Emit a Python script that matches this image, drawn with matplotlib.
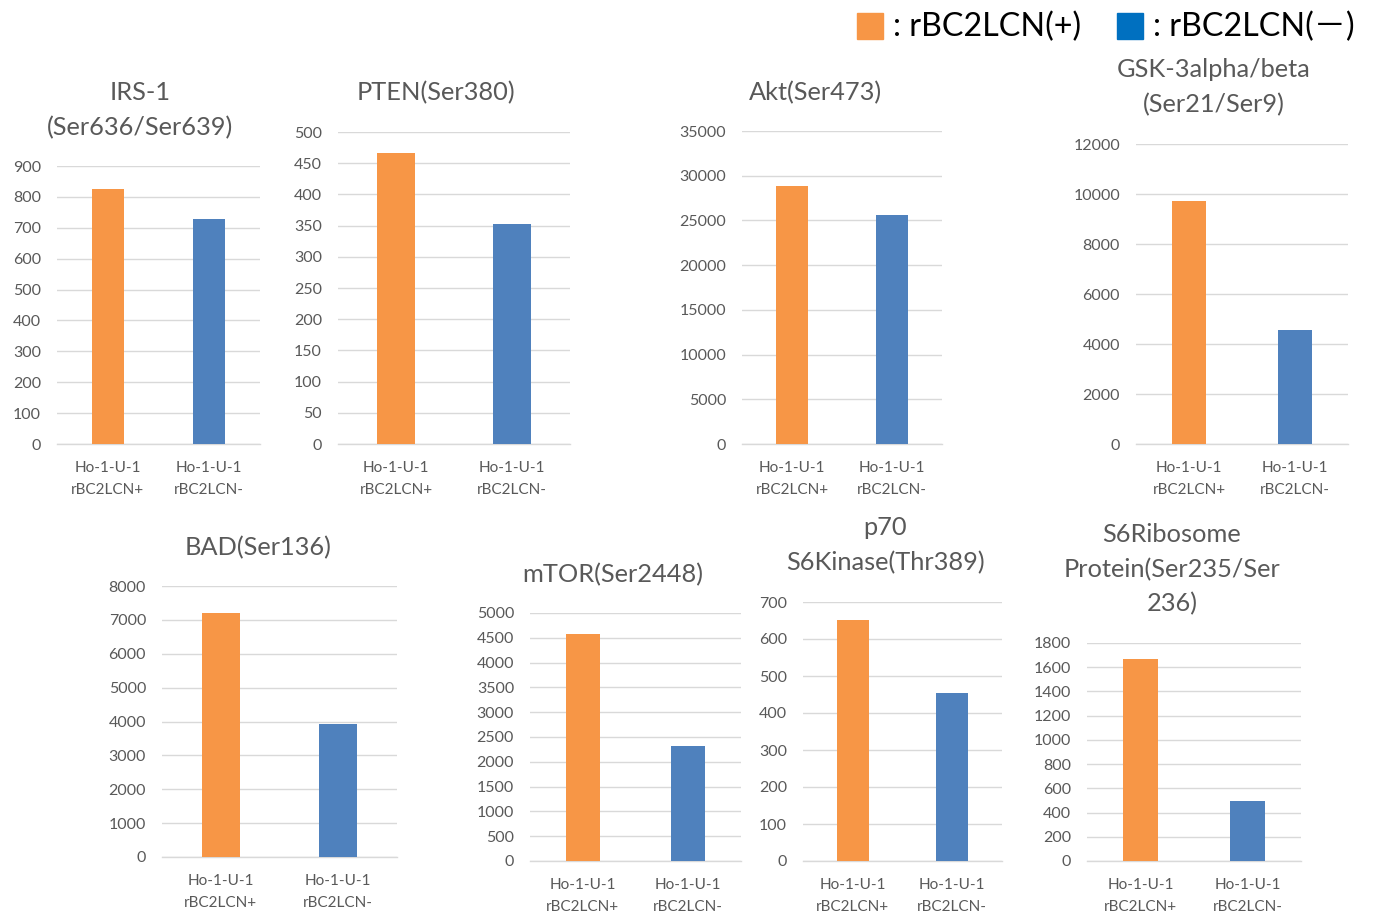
import matplotlib
matplotlib.use("Agg")
import matplotlib.pyplot as plt
from matplotlib.patches import Rectangle

W, H = 1375, 918

categories = ["Ho-1-U-1\nrBC2LCN+", "Ho-1-U-1\nrBC2LCN-"]

titles = [
    "IRS-1\n(Ser636/Ser639)",
    "PTEN(Ser380)",
    "Akt(Ser473)",
    "GSK-3alpha/beta\n(Ser21/Ser9)",
    "BAD(Ser136)",
    "mTOR(Ser2448)",
    "p70\nS6Kinase(Thr389)",
    "S6Ribosome\nProtein(Ser235/Ser\n236)",
]

positive = [827, 467, 28800, 9730, 7215, 4570, 651, 1670]
negative = [727, 352, 25580, 4555, 3915, 2312, 454, 495]

y_max = [900, 500, 35000, 12000, 8000, 5000, 700, 1800]
y_step = [100, 50, 5000, 2000, 1000, 500, 100, 200]

# plot boxes in pixels: left, right, top, bottom
boxes = [
    (57, 260, 166, 444),
    (338, 570, 132, 444),
    (742, 942, 131, 444),
    (1136, 1348, 144, 444),
    (162, 397, 586, 857),
    (530, 741, 613, 861),
    (803, 1002, 602, 861),
    (1087, 1301, 643, 861),
]
# title centre x and y of the first title line (pixels)
title_pos = [
    (140, 90), (436, 90), (815, 90), (1214, 67),
    (258, 545), (613, 572), (885, 525), (1172, 532),
]

ORANGE = "#F79646"
BLUE = "#4F81BD"
LEG_BLUE = "#0070C0"
GRID = "#D9D9D9"
TXT = "#595959"
FONT = ["Lato", "Noto Sans CJK JP", "DejaVu Sans"]

plt.rcParams["font.family"] = FONT

fig = plt.figure(figsize=(W / 100, H / 100), dpi=100)

for i in range(8):
    l, r, t, b = boxes[i]
    ax = fig.add_axes([l / W, 1 - b / H, (r - l) / W, (b - t) / H])
    ax.bar([0, 1], [positive[i], negative[i]], width=0.32,
           color=[ORANGE, BLUE], zorder=3)
    ax.set_xlim(-0.5, 1.5)
    ax.set_ylim(0, y_max[i])
    ticks = list(range(0, y_max[i] + 1, y_step[i]))
    ax.set_yticks(ticks)
    ax.set_yticklabels([str(v) for v in ticks])
    ax.set_xticks([0, 1])
    ax.set_xticklabels(categories, linespacing=1.75)
    ax.grid(axis="y", color=GRID, linewidth=1, zorder=0)
    ax.set_axisbelow(True)
    for s in ["top", "right", "left"]:
        ax.spines[s].set_visible(False)
    ax.spines["bottom"].set_color(GRID)
    ax.spines["bottom"].set_linewidth(1)
    ax.tick_params(axis="y", length=0, pad=11.5, labelsize=11.5, labelcolor=TXT)
    ax.tick_params(axis="x", length=0, pad=12, labelsize=11, labelcolor=TXT)
    tx, ty = title_pos[i]
    fig.text(tx / W, 1 - (ty - 9) / H, titles[i], ha="center", va="top",
             fontsize=18.3, color=TXT, linespacing=1.6)

# legend
for x0, col, lab in [(857, ORANGE, ": rBC2LCN(+)"), (1117, LEG_BLUE, ": rBC2LCN(－)")]:
    fig.patches.append(Rectangle((x0 / W, 1 - 39 / H), 26 / W, 26 / H,
                                 transform=fig.transFigure, color=col))
    fig.text((x0 + 36) / W, 1 - 27 / H, lab, ha="left", va="center",
             fontsize=23.2, color="black")

fig.savefig("out.png", dpi=100)
